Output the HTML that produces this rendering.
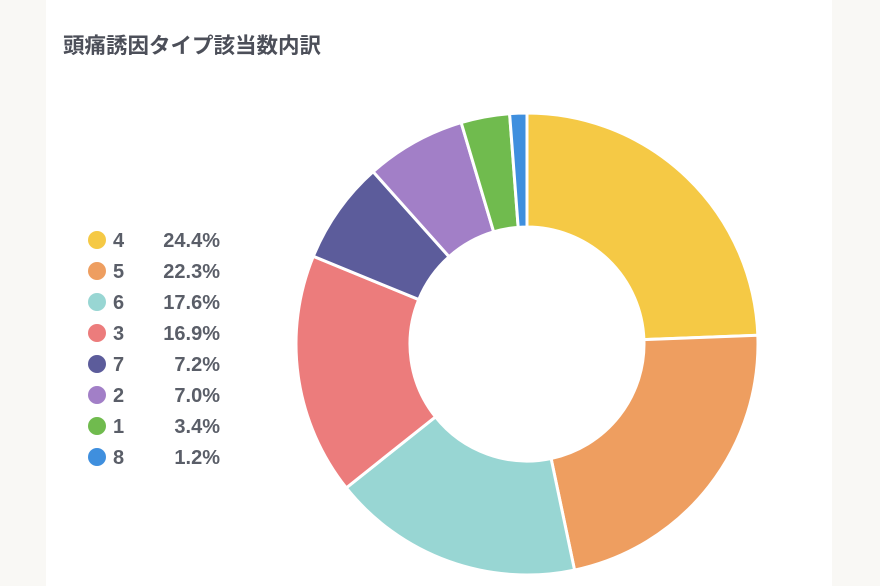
<!DOCTYPE html>
<html><head><meta charset="utf-8"><style>
body{margin:0;width:880px;height:586px;background:#f9f8f5;overflow:hidden;font-family:"Liberation Sans","Noto Sans CJK JP",sans-serif}
#card{position:absolute;left:46px;top:0;width:786px;height:586px;background:#fff}
</style></head><body>
<div id="card"></div>
<svg width="880" height="586" style="position:absolute;left:0;top:0" id="s">
<text x="63" y="53" font-size="21.5" font-weight="bold" fill="#4c4f59" font-family="Liberation Sans, Noto Sans CJK JP, sans-serif">頭痛誘因タイプ該当数内訳</text>
</svg>
<script>
var d=[["4",24.4,"#f5c945"],["5",22.3,"#ee9e60"],["6",17.6,"#98d6d3"],["3",16.9,"#ec7c7c"],["7",7.2,"#5c5c9b"],["2",7.0,"#a27fc7"],["1",3.4,"#70bb4e"],["8",1.2,"#3f8fde"]];
var s=document.getElementById('s'),cx=527,cy=344,R=231,r=117,a=0,h="";
function p(rad,ang){return [cx+rad*Math.sin(ang),cy-rad*Math.cos(ang)];}
d.forEach(function(e,i){var b=a+e[1]/100*2*Math.PI;var l=(b-a)>Math.PI?1:0;
var p1=p(R,a),p2=p(R,b),p3=p(r,b),p4=p(r,a);
h+='<path d="M'+p1+' A'+R+' '+R+' 0 '+l+' 1 '+p2+' L'+p3+' A'+r+' '+r+' 0 '+l+' 0 '+p4+'Z" fill="'+e[2]+'" stroke="#fff" stroke-width="3"/>';
a=b;var y=240+i*31;
h+='<circle cx="97" cy="'+y+'" r="9" fill="'+e[2]+'"/>';
h+='<text x="113" y="'+(y+7)+'" font-size="20" font-weight="bold" fill="#5a5e68">'+e[0]+'</text>';
h+='<text x="220" y="'+(y+7)+'" font-size="20" font-weight="bold" fill="#5a5e68" text-anchor="end">'+e[1].toFixed(1)+'%</text>';});
s.insertAdjacentHTML('beforeend',h);
</script>
</body></html>
